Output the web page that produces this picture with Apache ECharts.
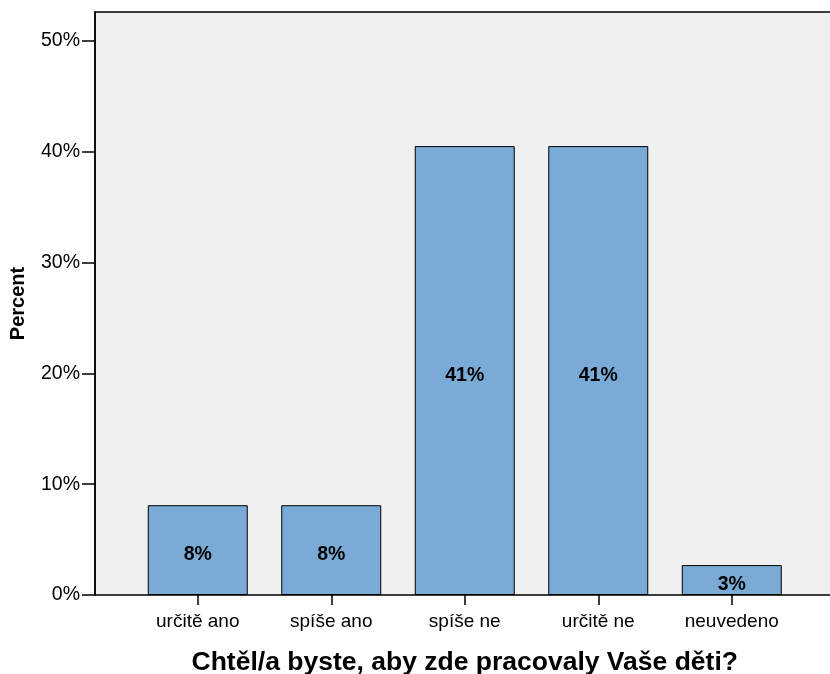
<!DOCTYPE html>
<html><head><meta charset="utf-8">
<script src="https://cdn.jsdelivr.net/npm/echarts@6/dist/echarts.min.js"></script>
<style>html,body{margin:0;padding:0;background:#fff}#c{width:830px;height:674px}</style>
</head><body><div id="c"></div>
<script>
const categories = ['určitě ano', 'spíše ano', 'spíše ne', 'určitě ne', 'neuvedeno'];
const percentValues = [8.1, 8.1, 40.5, 40.5, 2.7];
const yTicks = [0, 10, 20, 30, 40, 50];
const xTitle = 'Chtěl/a byste, aby zde pracovaly Vaše děti?';
const yTitle = 'Percent';

const FONT = '"Liberation Sans", Arial, sans-serif';
const YMAX = 52.6;
const chart = echarts.init(document.getElementById('c'));
chart.setOption({
  animation: false,
  textStyle: { fontFamily: FONT },
  grid: [
    { left: 95, right: -2, top: 12, bottom: 79, outerBoundsMode: 'none', containLabel: false,
      show: true, backgroundColor: '#f0f0f0', borderColor: '#000', borderWidth: 1.5 },
    { left: 131, width: 667.5, top: 12, bottom: 79, outerBoundsMode: 'none', containLabel: false }
  ],
  xAxis: [
    { gridIndex: 0, type: 'value', min: -0.77, max: 4.73, show: false },
    { gridIndex: 1, type: 'category', data: categories,
      axisLine: { show: false },
      axisTick: { show: true, alignWithLabel: true, length: 10, lineStyle: { color: '#000', width: 1.5 } },
      axisLabel: { color: '#000', fontSize: 19, margin: 17, fontFamily: FONT },
      name: xTitle, nameLocation: 'middle', nameGap: 54,
      nameTextStyle: { color: '#000', fontSize: 26.5, fontWeight: 'bold', fontFamily: FONT } }
  ],
  yAxis: [
    { gridIndex: 0, type: 'value', min: 0, max: YMAX, interval: 10,
      axisLine: { show: true, onZero: false, lineStyle: { color: '#000', width: 1.5 } },
      axisTick: { show: true, length: 13, lineStyle: { color: '#000', width: 1.5 },
        customValues: yTicks },
      axisLabel: { color: '#000', fontSize: 19.5, margin: 15, fontFamily: FONT,
        customValues: yTicks, formatter: v => v + '%' },
      splitLine: { show: false },
      name: yTitle, nameLocation: 'middle', nameGap: 67, nameRotate: 90,
      nameTextStyle: { color: '#000', fontSize: 20, fontWeight: 'bold', fontFamily: FONT } },
    { gridIndex: 1, type: 'value', min: 0, max: YMAX, show: false }
  ],
  series: [{
    type: 'bar', xAxisIndex: 1, yAxisIndex: 1,
    data: percentValues, barWidth: 100,
    itemStyle: { color: '#7aaad6', borderColor: '#000', borderWidth: 1 },
    label: { show: true, position: 'inside', offset: [0, 5], color: '#000', fontSize: 19.5, fontWeight: 'bold', fontFamily: FONT,
      formatter: p => Math.round(p.value) + '%' }
  }]
});
</script></body></html>
